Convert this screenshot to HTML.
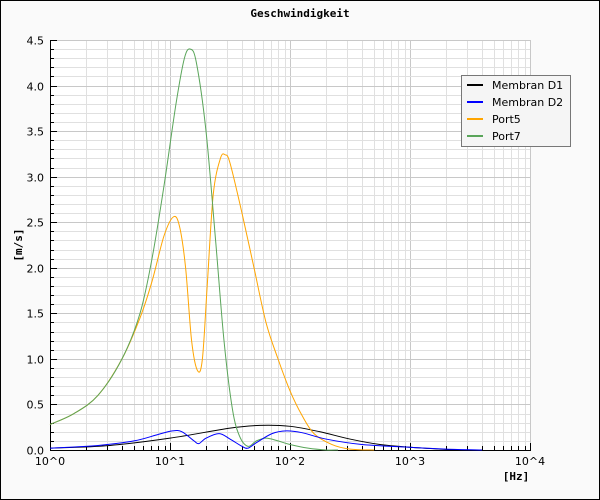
<!DOCTYPE html>
<html><head><meta charset="utf-8"><style>
html,body{margin:0;padding:0;}
body{width:600px;height:500px;overflow:hidden;background:#fafafa;}
svg{display:block;}
</style></head><body>
<svg id="s" width="600" height="500" xmlns="http://www.w3.org/2000/svg" font-family="DejaVu Sans, Liberation Sans, sans-serif">
<rect x="0.5" y="0.5" width="599" height="499" fill="#fafafa" stroke="#000"/>
<rect x="50" y="40" width="480" height="410" fill="#fff"/>
<g id="grid" stroke="#dcdcdc" stroke-width="1"></g>
<g id="ticks" stroke="#000" stroke-width="1"></g>
<text x="300" y="17" text-anchor="middle" font-family="DejaVu Sans Mono, Liberation Mono, monospace" font-weight="bold" font-size="11">Geschwindigkeit</text>
<text transform="translate(22,245) rotate(-90)" text-anchor="middle" font-family="DejaVu Sans Mono, Liberation Mono, monospace" font-weight="bold" font-size="11">[m/s]</text>
<text x="516" y="480" text-anchor="middle" font-family="DejaVu Sans Mono, Liberation Mono, monospace" font-weight="bold" font-size="11">[Hz]</text>
<g id="labels" font-size="11" fill="#000"></g>
<g id="curves" fill="none" stroke-width="1"></g>
<rect x="461.5" y="75.5" width="109" height="71" fill="#f5f5f5" stroke="#777"/>
<g font-size="11">
<line x1="467" y1="85" x2="483" y2="85" stroke="#000" stroke-width="2"/><text x="492" y="89">Membran D1</text>
<line x1="467" y1="102" x2="483" y2="102" stroke="#00f" stroke-width="2"/><text x="492" y="106">Membran D2</text>
<line x1="467" y1="119" x2="483" y2="119" stroke="#ffa500" stroke-width="2"/><text x="492" y="123">Port5</text>
<line x1="467" y1="136" x2="483" y2="136" stroke="#5aa55a" stroke-width="2"/><text x="492" y="140">Port7</text>
</g>
</svg>
<script>
var NS="http://www.w3.org/2000/svg";
function el(p,t,a,txt){var e=document.createElementNS(NS,t);for(var k in a)e.setAttribute(k,a[k]);if(txt)e.textContent=txt;p.appendChild(e);return e;}
var X=function(u){return 50+120*u;}, Y=function(v){return 450-410/4.5*v;};
var g=document.getElementById('grid'),t=document.getElementById('ticks'),L=document.getElementById('labels');
for(var d=0;d<4;d++)for(var m=1;m<10;m++){var x=Math.round(X(d+Math.log10(m)))+0.5;
 el(g,'line',{x1:x,y1:40,x2:x,y2:450,stroke:m==1?'#c8c8c8':'#e0e0e0'});
 el(t,'line',{x1:x,y1:450,x2:x,y2:m==1?443:446});}
el(g,'line',{x1:530.5,y1:40,x2:530.5,y2:450,stroke:'#c8c8c8'});
el(t,'line',{x1:530.5,y1:450,x2:530.5,y2:443});
for(var i=0;i<=45;i++){var y=Math.round(Y(i/10))+0.5;
 el(g,'line',{x1:50,y1:y,x2:530,y2:y,stroke:i%5==0?'#c8c8c8':'#e0e0e0'});
 el(t,'line',{x1:50,y1:y,x2:i%5==0?57:54,y2:y});
 if(i%5==0)el(L,'text',{x:44,y:y+4,'text-anchor':'end'},(i/10).toFixed(1));}
el(t,'line',{x1:50.5,y1:40,x2:50.5,y2:450});
el(t,'line',{x1:50,y1:450.5,x2:531,y2:450.5});
for(var d=0;d<=4;d++)el(L,'text',{x:X(d),y:465,'text-anchor':'middle'},'10^'+d);
function path(pts){var P=pts.map(function(p){return[X(p[0]),Y(p[1])];});var s='M'+P[0][0]+','+P[0][1];
 for(var i=0;i<P.length-1;i++){var p0=P[Math.max(i-1,0)],p1=P[i],p2=P[i+1],p3=P[Math.min(i+2,P.length-1)];
  s+=' C'+(p1[0]+(p2[0]-p0[0])/6)+','+(p1[1]+(p2[1]-p0[1])/6)+' '+(p2[0]-(p3[0]-p1[0])/6)+','+(p2[1]-(p3[1]-p1[1])/6)+' '+p2[0]+','+p2[1];}
 return s;}
var C=document.getElementById('curves');
var green=[[0,.28],[0.2,.4],[0.4,.6],[0.6,1.0],[0.75,1.5],[0.85,2.1],[0.95,2.9],[1.05,3.8],[1.12,4.3],[1.17,4.4],[1.22,4.25],[1.3,3.5],[1.38,2.3],[1.45,1.2],[1.52,0.45],[1.58,0.15],[1.65,0.04],[1.72,0.1],[1.8,0.13],[1.9,0.1],[2.0,0.06],[2.15,0.02],[2.3,0],[2.4,0]];
var orange=[[0,.28],[0.2,.4],[0.4,.6],[0.6,1.0],[0.75,1.45],[0.85,1.85],[0.95,2.35],[1.03,2.56],[1.08,2.45],[1.13,2.0],[1.18,1.2],[1.23,0.87],[1.27,1.0],[1.31,1.8],[1.36,2.8],[1.42,3.2],[1.46,3.24],[1.5,3.15],[1.6,2.6],[1.7,2.0],[1.8,1.4],[1.9,1.0],[2.0,0.65],[2.1,0.38],[2.2,0.18],[2.35,0.06],[2.5,0.01],[2.7,0]];
var black=[[0,.02],[0.5,.05],[1,.13],[1.5,.24],[1.75,.27],[2,.26],[2.25,.2],[2.5,.12],[2.75,.06],[3,.03],[3.25,.01],[3.4,0]];
var blue=[[0,.02],[0.4,.05],[0.7,.1],[0.9,.17],[1.02,.21],[1.1,.2],[1.2,.1],[1.24,.07],[1.3,.13],[1.41,.18],[1.5,.12],[1.6,.04],[1.65,.02],[1.72,.08],[1.85,.18],[1.97,.21],[2.1,.19],[2.3,.12],[2.6,.06],[3.0,.03],[3.3,.01],[3.6,0]];
el(C,'path',{d:path(black),stroke:'#000'});
el(C,'path',{d:path(orange),stroke:'#ffa500'});
el(C,'path',{d:path(green),stroke:'#5aa55a'});
el(C,'path',{d:path(blue),stroke:'#00f'});
</script>
</body></html>
